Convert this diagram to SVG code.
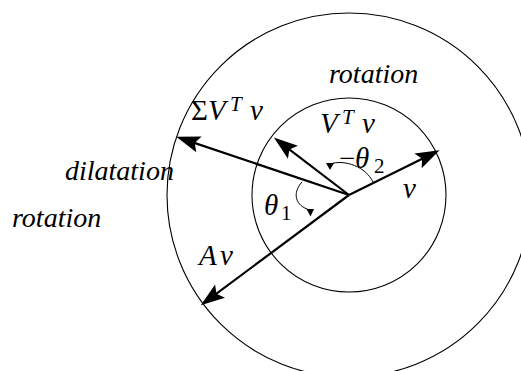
<svg xmlns="http://www.w3.org/2000/svg" width="521" height="371" viewBox="0 0 521 371">
<style>
.circ{fill:none;stroke:#000;stroke-width:1.1}
.vec{fill:none;stroke:#000;stroke-width:2.2}
.ang{fill:none;stroke:#000;stroke-width:1}
text{font-family:'Liberation Serif','Times New Roman',serif;font-style:italic;fill:#000}
.word{font-size:28px}
.m{font-size:29px}
.up{font-style:normal}
.sup{font-size:21px}
</style>
<defs>
<marker id="ah" markerUnits="userSpaceOnUse" markerWidth="30" markerHeight="30" viewBox="-10 -8 20 16" refX="0" refY="0" orient="auto" overflow="visible">
<path d="M8,0 L-8,-5.5 L-5,0 L-8,5.5 Z" fill="#000"/>
</marker>
</defs>
<g id="circles">
<circle id="outer" class="circ" cx="349" cy="195" r="182"/>
<circle id="inner" class="circ" cx="349" cy="195" r="97"/>
</g>
<g id="connectors">
<line class="vec" x1="349" y1="195" x2="428.8" y2="155.5" marker-end="url(#ah)"/>
<line class="vec" x1="349" y1="195" x2="283.4" y2="144.9" marker-end="url(#ah)"/>
<line class="vec" x1="349" y1="195" x2="187.6" y2="140.6" marker-end="url(#ah)"/>
<line class="vec" x1="349" y1="195" x2="210.4" y2="298.2" marker-end="url(#ah)"/>
<path class="ang" d="M302,182 C292,193 295,206 310,210"/>
<polygon points="306.5,209 314,209 310.5,216.5" fill="#000"/>
<path class="ang" d="M373,182 C366,167 345,159 330,164"/>
<polygon points="326,163 334,163 330,170" fill="#000"/>
</g>
<g id="labels">
<text class="word" x="329" y="83">rotation</text>
<text class="word" x="65" y="180">dilatation</text>
<text class="word" x="12" y="227">rotation</text>
<text class="m" x="191" y="120"><tspan class="up">Σ</tspan><tspan x="208">V</tspan><tspan class="sup" x="230" y="111">T</tspan><tspan x="250" y="120">v</tspan></text>
<text class="m" x="320" y="133">V<tspan class="sup" x="342" y="124">T</tspan><tspan x="362" y="133">v</tspan></text>
<text class="m" x="339" y="168"><tspan class="up">−</tspan><tspan x="355">θ</tspan><tspan class="sup up" x="374" y="173">2</tspan></text>
<text class="m" x="264" y="215">θ<tspan class="sup up" x="281" y="220">1</tspan></text>
<text class="m" x="199" y="265">A<tspan x="220">v</tspan></text>
<text class="m" x="403" y="198">v</text>
</g>
</svg>
